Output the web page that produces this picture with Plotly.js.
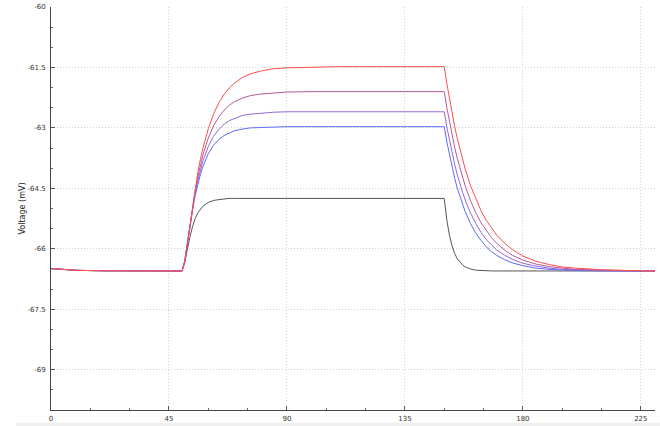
<!DOCTYPE html>
<html>
<head>
<meta charset="utf-8">
<script src="https://cdn.plot.ly/plotly-3.0.1.min.js"></script>
<style>html,body{margin:0;padding:0;background:#fff;}#chart{width:660px;height:426px;}</style>
</head>
<body>
<div id="chart"></div>
<script>
// Time axis (ms)
const time = [0,5,10,20,30,40,50,
  51,52,53,54,55,56,57,58,60,62,64,66,68,70,73,76,80,85,90,100,110,120,135,150,
  151,152,153,154,155,156,157,158,160,162,164,166,168,170,173,176,180,185,190,195,200,210,220,231];

const pre = [-66.49,-66.52,-66.535,-66.545,-66.55,-66.55,-66.55];

const vRed = pre.concat([
  -66.31,-65.86,-65.36,-64.90,-64.48,-64.11,-63.78,-63.49,-63.02,-62.66,-62.38,-62.17,-62.01,-61.89,-61.75,-61.66,-61.59,-61.53,-61.51,-61.49,-61.48,-61.48,-61.48,-61.48,
  -61.90,-62.29,-62.64,-62.97,-63.27,-63.54,-63.79,-64.02,-64.43,-64.76,-65.05,-65.29,-65.49,-65.66,-65.86,-66.02,-66.18,-66.31,-66.39,-66.45,-66.48,-66.52,-66.54,-66.55]);

const vMagenta = pre.concat([
  -66.31,-65.87,-65.39,-64.95,-64.55,-64.21,-63.92,-63.66,-63.25,-62.95,-62.73,-62.56,-62.44,-62.35,-62.26,-62.20,-62.16,-62.13,-62.11,-62.10,-62.10,-62.10,-62.10,-62.10,
  -62.50,-62.86,-63.19,-63.49,-63.76,-64.01,-64.24,-64.44,-64.80,-65.10,-65.35,-65.55,-65.72,-65.86,-66.03,-66.16,-66.28,-66.38,-66.44,-66.48,-66.51,-66.53,-66.54,-66.55]);

const vViolet = pre.concat([
  -66.32,-65.87,-65.41,-64.99,-64.62,-64.31,-64.04,-63.81,-63.46,-63.21,-63.04,-62.91,-62.82,-62.76,-62.69,-62.66,-62.63,-62.61,-62.60,-62.60,-62.60,-62.60,-62.60,-62.60,
  -62.98,-63.32,-63.63,-63.91,-64.17,-64.40,-64.60,-64.79,-65.11,-65.37,-65.59,-65.77,-65.91,-66.03,-66.16,-66.26,-66.36,-66.43,-66.48,-66.51,-66.52,-66.54,-66.55,-66.55]);

const vBlue = pre.concat([
  -66.32,-65.88,-65.43,-65.03,-64.68,-64.39,-64.15,-63.95,-63.64,-63.43,-63.29,-63.19,-63.12,-63.07,-63.03,-63.00,-62.99,-62.98,-62.97,-62.97,-62.97,-62.97,-62.97,-62.97,
  -63.35,-63.68,-63.99,-64.25,-64.50,-64.71,-64.91,-65.08,-65.37,-65.61,-65.79,-65.95,-66.07,-66.16,-66.27,-66.35,-66.42,-66.48,-66.51,-66.53,-66.54,-66.55,-66.55,-66.55]);

const vBlack = pre.concat([
  -66.35,-66.01,-65.70,-65.45,-65.25,-65.11,-65.01,-64.94,-64.85,-64.80,-64.78,-64.76,-64.75,-64.75,-64.75,-64.75,-64.75,-64.75,-64.75,-64.75,-64.75,-64.75,-64.75,-64.75,
  -65.29,-65.67,-65.93,-66.12,-66.25,-66.34,-66.40,-66.45,-66.50,-66.53,-66.54,-66.55,-66.55,-66.55,-66.55,-66.55,-66.55,-66.55,-66.55,-66.55,-66.55,-66.55,-66.55,-66.55]);

const xTickVals = [0,45,90,135,180,225];
const yTickVals = [-60,-61.5,-63,-64.5,-66,-67.5,-69];
const yTickText = ['-60','-61.5','-63','-64.5','-66','-67.5','-69'];

const series = [
  {y: vBlack, color: '#555555'},
  {y: vBlue, color: '#5a6aff'},
  {y: vViolet, color: '#9268d8'},
  {y: vMagenta, color: '#b65a98'},
  {y: vRed, color: '#ff4d4d'}
];

const traces = series.map(s => ({
  x: time, y: s.y, type: 'scatter', mode: 'lines',
  line: {color: s.color, width: 1}, hoverinfo: 'skip'
}));

const tickFont = {family: 'DejaVu Sans', size: 7, color: '#333'};

const layout = {
  width: 660, height: 426,
  margin: {l: 51, r: 5, t: 7, b: 16},
  paper_bgcolor: '#fff', plot_bgcolor: '#fff',
  showlegend: false,
  xaxis: {
    range: [0, 230.4], tickmode: 'array', tickvals: xTickVals,
    ticks: 'inside', ticklen: 4, tickcolor: '#555', tickwidth: 1,
    showline: true, linecolor: '#444', linewidth: 1, zeroline: false,
    showgrid: true, gridcolor: '#d2d2d2', griddash: '1px,2px', gridwidth: 1,
    tickfont: tickFont, ticklabelstandoff: 2,
    minor: {tickmode: 'linear', tick0: 0, dtick: 15, ticks: 'inside', ticklen: 2, tickcolor: '#666', showgrid: false}
  },
  yaxis: {
    range: [-70, -60], tickmode: 'array', tickvals: yTickVals, ticktext: yTickText,
    ticks: 'inside', ticklen: 4, tickcolor: '#555', tickwidth: 1,
    showline: true, linecolor: '#444', linewidth: 1, zeroline: false,
    showgrid: true, gridcolor: '#d2d2d2', griddash: '1px,2px', gridwidth: 1,
    tickfont: tickFont, ticklabelstandoff: 3,
    minor: {tickmode: 'linear', tick0: -70, dtick: 0.5, ticks: 'inside', ticklen: 2, tickcolor: '#666', showgrid: false},
    title: {text: 'Voltage (mV)', font: {family: 'DejaVu Sans', size: 8, color: '#222'}, standoff: 0}
  },
  shapes: [{
    type: 'rect', xref: 'paper', yref: 'paper',
    x0: -0.058, x1: 1.01, y0: -0.0316, y1: -0.05,
    fillcolor: '#f0f0f0', line: {width: 0}, layer: 'below'
  }]
};

Plotly.newPlot('chart', traces, layout, {staticPlot: true, displayModeBar: false});
</script>
</body>
</html>
